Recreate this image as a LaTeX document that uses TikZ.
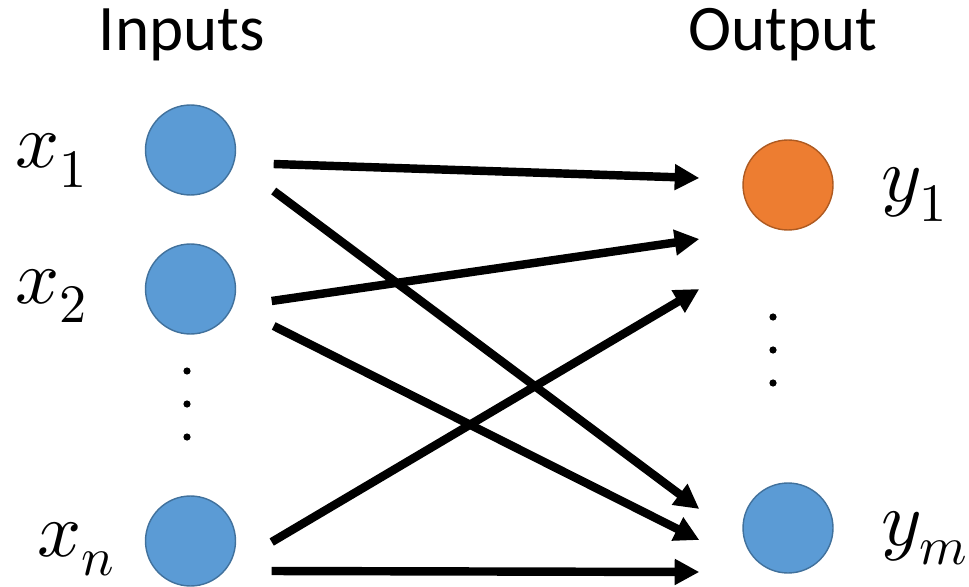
\documentclass[tikz,border=0pt]{standalone}
\usepackage{fontspec}
\usepackage{unicode-math}
\setmainfont{Carlito}
\setmathfont{Latin Modern Math}
\usetikzlibrary{arrows.meta,calc}
\definecolor{nodeblue}{HTML}{5B9BD5}
\definecolor{nodeblueedge}{HTML}{41719C}
\definecolor{nodeorange}{HTML}{ED7D31}
\definecolor{nodeorangeedge}{HTML}{AE5A21}
\tikzset{
  unit/.style={circle, minimum size=1.8cm, inner sep=0pt, line width=0.8pt},
  inunit/.style={unit, draw=nodeblueedge, fill=nodeblue},
  outunit/.style={unit, draw=nodeorangeedge, fill=nodeorange},
  heading/.style={inner sep=0pt, font=\fontsize{37}{44}\selectfont},
  varlabel/.style={inner sep=0pt, anchor=base west, font=\fontsize{44}{52}\selectfont},
  link/.style={line width=4.8pt, -{Triangle[length=14pt,width=14pt]}},
  ellipsisdot/.style={fill=black},
}
\begin{document}
\begin{tikzpicture}[x=0.02cm, y=-0.02cm]
  \useasboundingbox (0,0) rectangle (969,587);

  % column headings
  \node[heading] (hin)  at (182,35) {Inputs};
  \node[heading] (hout) at (783,35) {Output};

  % input units
  \node[inunit] (x1) at (190.5,150) {};
  \node[inunit] (x2) at (190.5,289) {};
  \node[inunit] (xn) at (190.5,541) {};

  % output units
  \node[outunit] (y1) at (788,185) {};
  \node[inunit]  (ym) at (788,528) {};

  % variable labels
  \node[varlabel] (lx1) at (15,168) {$x_1$};
  \node[varlabel] (lx2) at (15,303) {$x_2$};
  \node[varlabel] (lxn) at (37,556) {$x_n$};
  \node[varlabel] (ly1) at (881,202) {$y_1$};
  \node[varlabel] (lym) at (881,545) {$y_m$};

  % vertical ellipses
  \foreach \yy in {371,404,437} \fill[ellipsisdot] (187,\yy) circle (3.6);
  \foreach \yy in {317,350,383} \fill[ellipsisdot] (773,\yy) circle (3.6);

  % connections
  \draw[link] ($(x1.east)+(37.5,14)$) -- ($(y1.west)+(-43,-7)$);
  \draw[link] ($(x1.east)+(37.5,41)$) -- ($(ym.west)+(-43,-19)$);
  \draw[link] ($(x2.east)+(35.5,12)$) -- ($(y1.west)+(-43,54)$);
  \draw[link] ($(x2.east)+(37.5,37)$) -- ($(ym.west)+(-43,12)$);
  \draw[link] ($(xn.east)+(35.5,1)$)  -- ($(y1.west)+(-43,104)$);
  \draw[link] ($(xn.east)+(35.5,30)$) -- ($(ym.west)+(-43,44)$);
\end{tikzpicture}
\end{document}
